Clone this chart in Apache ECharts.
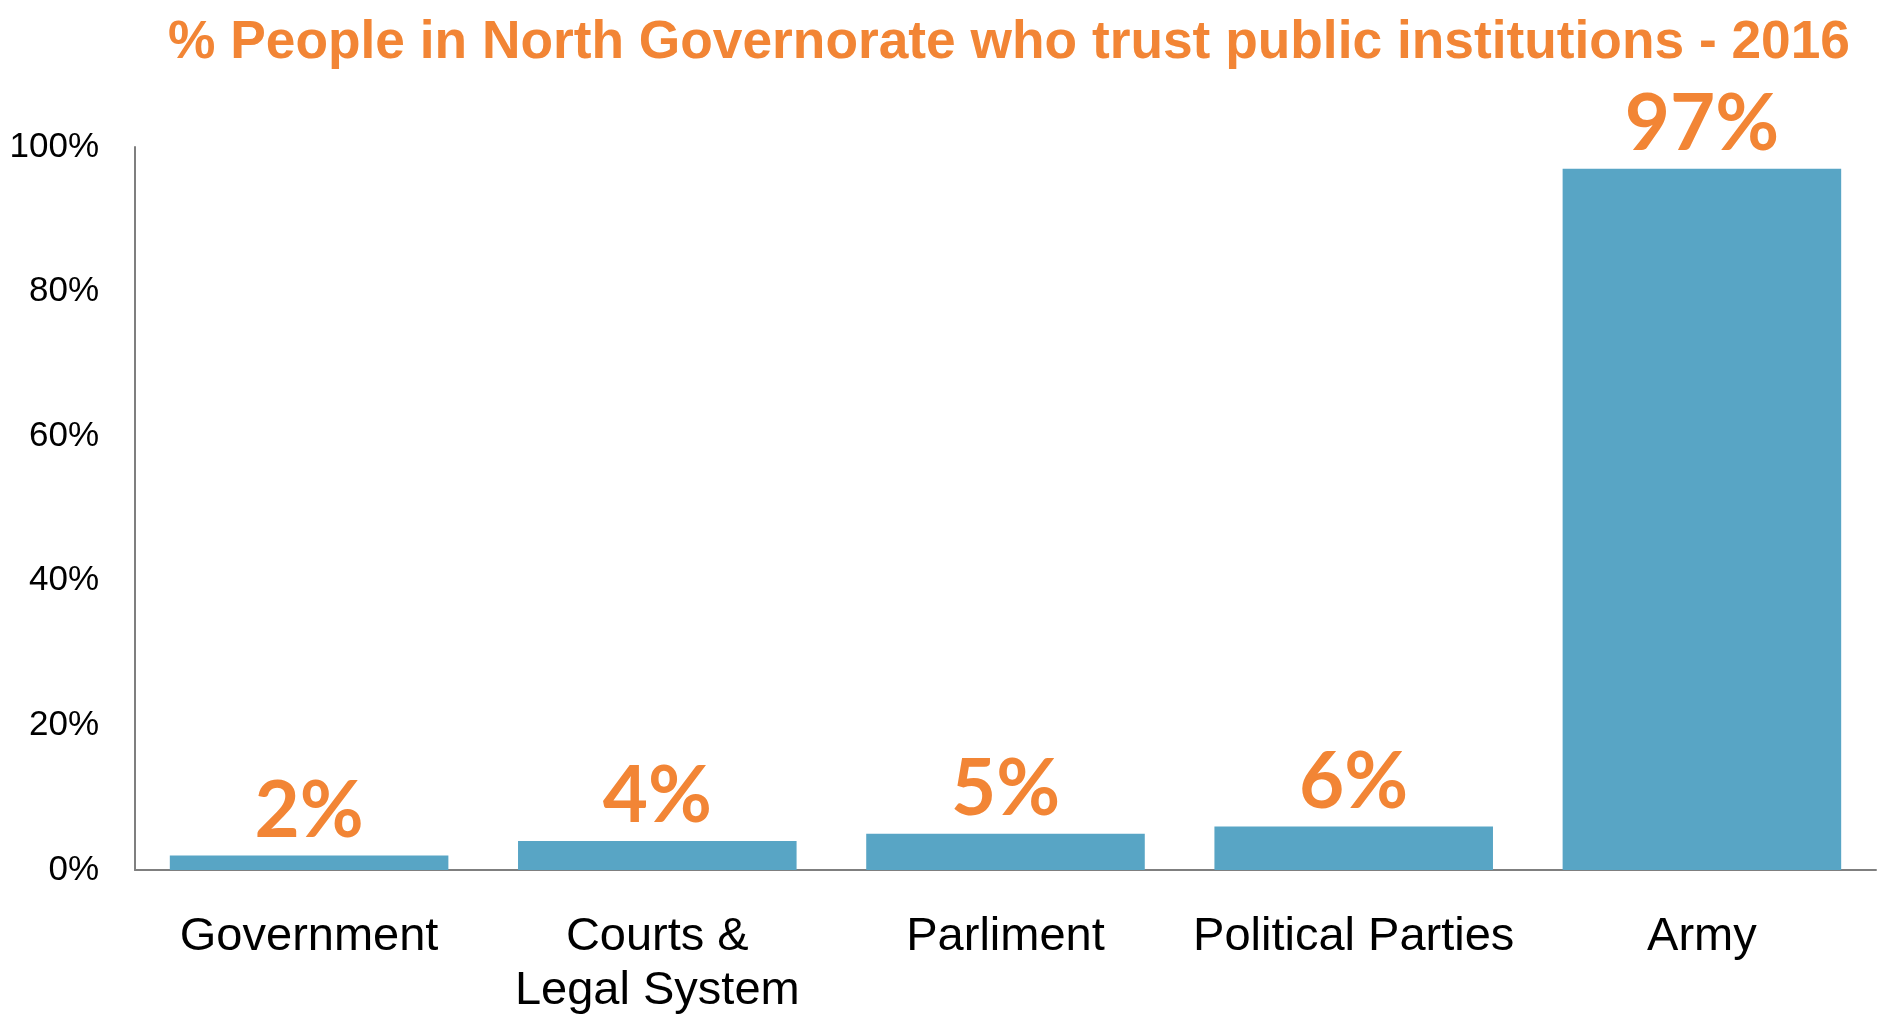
<!DOCTYPE html>
<html>
<head>
<meta charset="utf-8">
<script src="https://cdn.jsdelivr.net/npm/echarts@6/dist/echarts.min.js"></script>
<style>html,body{margin:0;padding:0;background:#fff;}#c{width:1890px;height:1026px;}</style>
</head>
<body>
<div id="c"></div>
<script>
const titleText = '% People in North Governorate who trust public institutions - 2016';
const categories = ['Government', 'Courts &\nLegal System', 'Parliment', 'Political Parties', 'Army'];
const trustValues = [2, 4, 5, 6, 97];
const yTicks = [0, 20, 40, 60, 80, 100];

const chart = echarts.init(document.getElementById('c'));
chart.setOption({
  animation: false,
  backgroundColor: '#ffffff',
  title: {
    text: titleText,
    left: 1004,
    textAlign: 'center',
    top: 12,
    textStyle: {
      color: '#F28535',
      fontFamily: "'Liberation Sans', Arial, sans-serif",
      fontWeight: 'bold',
      fontSize: 53.3
    }
  },
  grid: { left: 135, right: 14, top: 147, bottom: 156, containLabel: false },
  xAxis: {
    type: 'category',
    data: categories,
    axisLine: { lineStyle: { color: '#7f7f7f', width: 2 } },
    axisTick: { show: false },
    axisLabel: {
      color: '#000',
      fontFamily: "'Liberation Sans', Arial, sans-serif",
      fontSize: 47,
      lineHeight: 54,
      margin: 40,
      interval: 0
    }
  },
  yAxis: {
    type: 'value',
    min: yTicks[0],
    max: yTicks[yTicks.length - 1],
    interval: 20,
    axisLine: { show: true, lineStyle: { color: '#7f7f7f', width: 2 } },
    axisTick: { show: false },
    splitLine: { show: false },
    axisLabel: {
      color: '#000',
      fontFamily: "'Liberation Sans', Arial, sans-serif",
      fontSize: 35,
      margin: 36,
      formatter: v => v + '%'
    }
  },
  series: [{
    type: 'bar',
    data: trustValues,
    barCategoryGap: '20%',
    itemStyle: { color: '#58A5C5' },
    label: {
      show: true,
      position: 'top',
      distance: 5,
      color: '#F28535',
      fontFamily: "Lato, 'Open Sans', sans-serif",
      fontWeight: 'bold',
      fontSize: 78,
      formatter: p => p.value + '%'
    }
  }]
});
</script>
</body>
</html>
